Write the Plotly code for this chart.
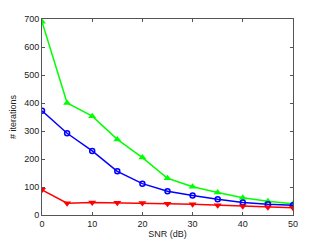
import plotly.graph_objects as go

snr = [0, 5, 10, 15, 20, 25, 30, 35, 40, 45, 50]
green_vals = [690, 400, 353, 270, 205, 131, 101, 80, 62, 49, 40]
blue_vals = [372, 292, 229, 156, 112, 85, 70, 56, 45, 38, 35]
red_vals = [90, 42, 45, 44, 43, 40, 38, 35, 31, 28, 26]

fig = go.Figure()
fig.add_trace(go.Scatter(x=snr, y=green_vals, mode="lines+markers",
                         line=dict(color="#00ff00", width=1.5),
                         marker=dict(symbol="triangle-up", size=7, color="#00ff00")))
fig.add_trace(go.Scatter(x=snr, y=blue_vals, mode="lines+markers",
                         line=dict(color="#0000ff", width=1.5),
                         marker=dict(symbol="circle-open", size=5, color="#0000ff", line=dict(width=1.5))))
fig.add_trace(go.Scatter(x=snr, y=red_vals, mode="lines+markers",
                         line=dict(color="#ff0000", width=1.5),
                         marker=dict(symbol="triangle-down", size=7, color="#ff0000")))

font = dict(family="Liberation Sans, Arial", size=9, color="#222222")
axis_common = dict(showline=True, linecolor="#555555", linewidth=1, mirror="ticks",
                   ticks="inside", ticklen=3, tickcolor="#555555", showgrid=False,
                   zeroline=False, automargin=False, tickfont=font)

fig.update_layout(
    width=323, height=242,
    margin=dict(l=34, r=38, t=11, b=35),
    paper_bgcolor="white", plot_bgcolor="white",
    showlegend=False,
    xaxis=dict(range=[0, 50], tickvals=[0, 10, 20, 30, 40, 50],
               title=dict(text="SNR (dB)", font=font, standoff=2),
               **axis_common),
    yaxis=dict(range=[0, 700], tickvals=[0, 100, 200, 300, 400, 500, 600, 700],
               title=dict(text="# iterations", font=font, standoff=6),
               **axis_common),
)

fig.write_html("out.html")
